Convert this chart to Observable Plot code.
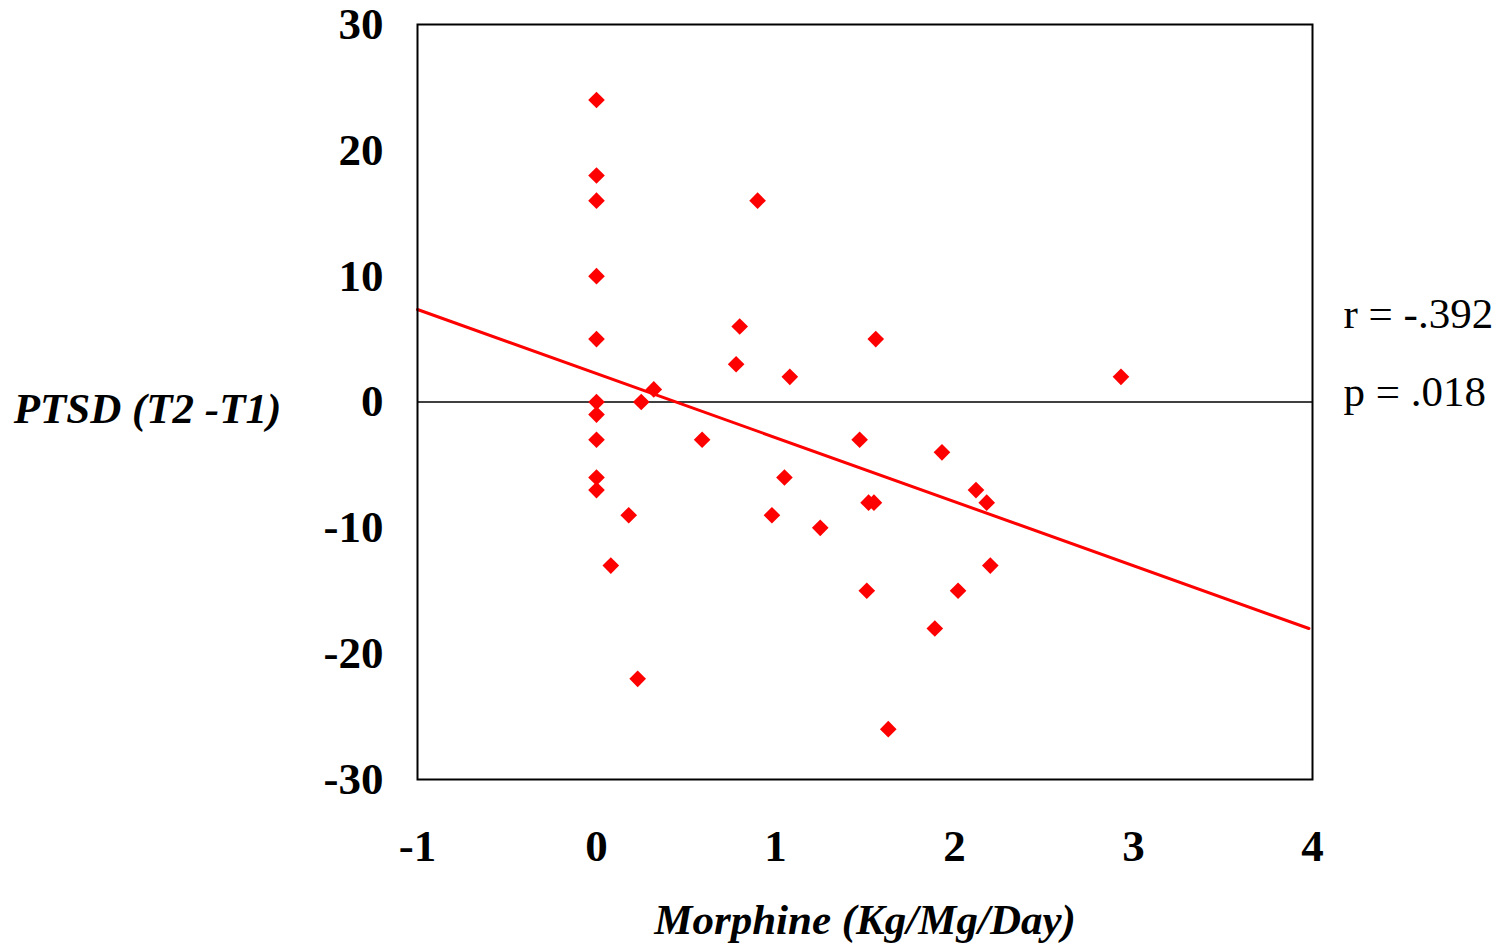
<!DOCTYPE html>
<html>
<head>
<meta charset="utf-8">
<script src="https://cdn.jsdelivr.net/npm/d3@7"></script>
<script src="https://cdn.jsdelivr.net/npm/@observablehq/plot@0.6"></script>
<style>
  html, body { margin: 0; padding: 0; background: #fff; }
  #chart { width: 1501px; height: 946px; }
</style>
</head>
<body>
<div id="chart"></div>
<script>
// Data
const morphine = [0, 0, 0, 0, 0, 0, 0, 0, 0, 0, 0.08, 0.18, 0.23, 0.25, 0.32, 0.59, 0.78, 0.80, 0.90, 0.98, 1.05, 1.08, 1.25, 1.47, 1.51, 1.52, 1.55, 1.56, 1.63, 1.89, 1.93, 2.02, 2.12, 2.18, 2.20, 2.93];
const ptsd = [24, 18, 16, 10, 5, 0, -1, -3, -6, -7, -13, -9, -22, 0, 1, -3, 3, 6, 16, -9, -6, 2, -10, -3, -15, -8, -8, 5, -26, -18, -4, -15, -7, -8, -13, 2];
const fitX = [-1, 3.98];
const fitY = [7.35, -18.0];
const xTicks = [-1, 0, 1, 2, 3, 4];
const yTicks = [-30, -20, -10, 0, 10, 20, 30];
const xLabel = "Morphine (Kg/Mg/Day)";
const yLabel = "PTSD (T2 -T1)";
const statLines = ["r = -.392", "p = .018"];

const points = morphine.map((x, i) => ({x, y: ptsd[i]}));
const fit = fitX.map((x, i) => ({x, y: fitY[i]}));

const serif = "'Liberation Serif', 'Times New Roman', serif";
const fmt = d => String(d);

const chart = Plot.plot({
  width: 1501,
  height: 946,
  marginLeft: 417,
  marginRight: 189,
  marginTop: 24,
  marginBottom: 167,
  style: {fontFamily: serif, fontSize: "45px", fontWeight: "bold", color: "#000", background: "#fff", overflow: "visible"},
  x: {domain: [-1, 4]},
  y: {domain: [-30, 30]},
  marks: [
    Plot.axisX({ticks: xTicks, tickFormat: fmt, tickSize: 0, tickPadding: 50, label: null, fontSize: 45, fontWeight: "bold"}),
    Plot.axisY({ticks: yTicks, tickFormat: fmt, tickSize: 0, tickPadding: 34, label: null, fontSize: 45, fontWeight: "bold"}),
    Plot.ruleY([0], {stroke: "#000", strokeWidth: 1.5}),
    Plot.line(fit, {x: "x", y: "y", stroke: "#ff0000", strokeWidth: 3}),
    Plot.dot(points, {x: "x", y: "y", symbol: "diamond2", r: 7.5, fill: "#ff0000", stroke: "none"}),
    Plot.frame({stroke: "#000", strokeWidth: 2}),
    Plot.text([yLabel], {frameAnchor: "left", dx: -270, dy: 7, text: d => d, textAnchor: "middle", fontSize: 43, fontWeight: "bold", fontStyle: "italic"}),
    Plot.text([xLabel], {frameAnchor: "bottom", dy: 154, text: d => d, textAnchor: "middle", fontSize: 43, fontWeight: "bold", fontStyle: "italic"}),
    Plot.text([statLines[0]], {frameAnchor: "right", dx: 31, dy: -88, text: d => d, textAnchor: "start", fontSize: 43, fontWeight: "normal"}),
    Plot.text([statLines[1]], {frameAnchor: "right", dx: 31, dy: -10, text: d => d, textAnchor: "start", fontSize: 43, fontWeight: "normal"})
  ]
});
document.getElementById("chart").appendChild(chart);
</script>
</body>
</html>
